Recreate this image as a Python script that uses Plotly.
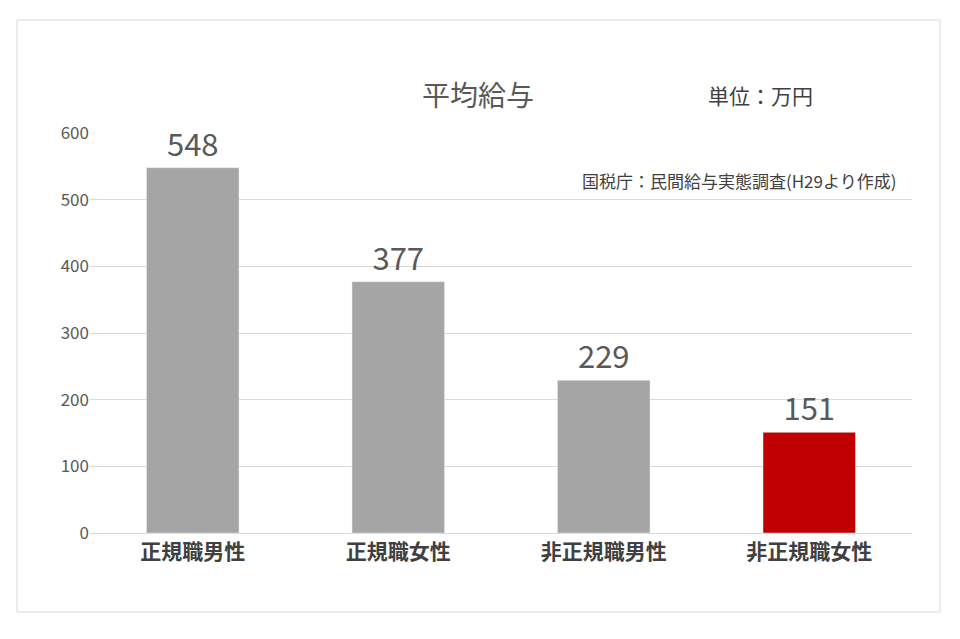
import plotly.graph_objects as go

categories = ["正規職男性", "正規職女性", "非正規職男性", "非正規職女性"]
salary = [548, 377, 229, 151]
bar_colors = ["#a5a5a5", "#a5a5a5", "#a5a5a5", "#c00000"]

# page body has an 8px margin, so pixel targets are shifted by 8
OFF = 8
W, H = 960, 639
L, R, T, B = 90 - OFF, 48 + OFF, 133 - OFF, 106 + OFF
pw, ph = W - L - R, H - T - B


def px(x):
    return (x - OFF - L) / pw


def py(y):
    return (H - B - (y - OFF)) / ph


fig = go.Figure(go.Bar(
    x=["<b>%s</b>" % c for c in categories], y=salary, marker_color=bar_colors, width=0.45,
    text=salary, textposition="outside", cliponaxis=False,
    textfont=dict(size=31, color="#595959"),
))

fig.update_layout(
    width=W, height=H, margin=dict(l=L, r=R, t=T, b=B),
    paper_bgcolor="white", plot_bgcolor="white", showlegend=False,
    font=dict(family="Noto Sans CJK JP"),
    xaxis=dict(tickfont=dict(size=21, color="#404040"),
               showline=True, linecolor="#d9d9d9", ticks=""),
    yaxis=dict(range=[0, 600], dtick=100, gridcolor="#d9d9d9",
               tickfont=dict(size=17, color="#595959"), ticks="", zeroline=False),
    shapes=[dict(type="rect", xref="paper", yref="paper",
                 x0=px(17), x1=px(940), y0=py(612), y1=py(20),
                 line=dict(color="#d9d9d9", width=1))],
    annotations=[
        dict(text="平均給与", xref="paper", yref="paper", x=px(478), y=py(72),
             showarrow=False, font=dict(size=28, color="#595959")),
        dict(text="単位：万円", xref="paper", yref="paper", x=px(815), y=py(78),
             showarrow=False, font=dict(size=21, color="#404040")),
        dict(text="国税庁：民間給与実態調査(H29より作成)", xref="paper", yref="paper",
             x=px(898), y=py(166), xanchor="right", showarrow=False,
             font=dict(size=17, color="#404040")),
    ],
)

fig.write_html("out.html")
